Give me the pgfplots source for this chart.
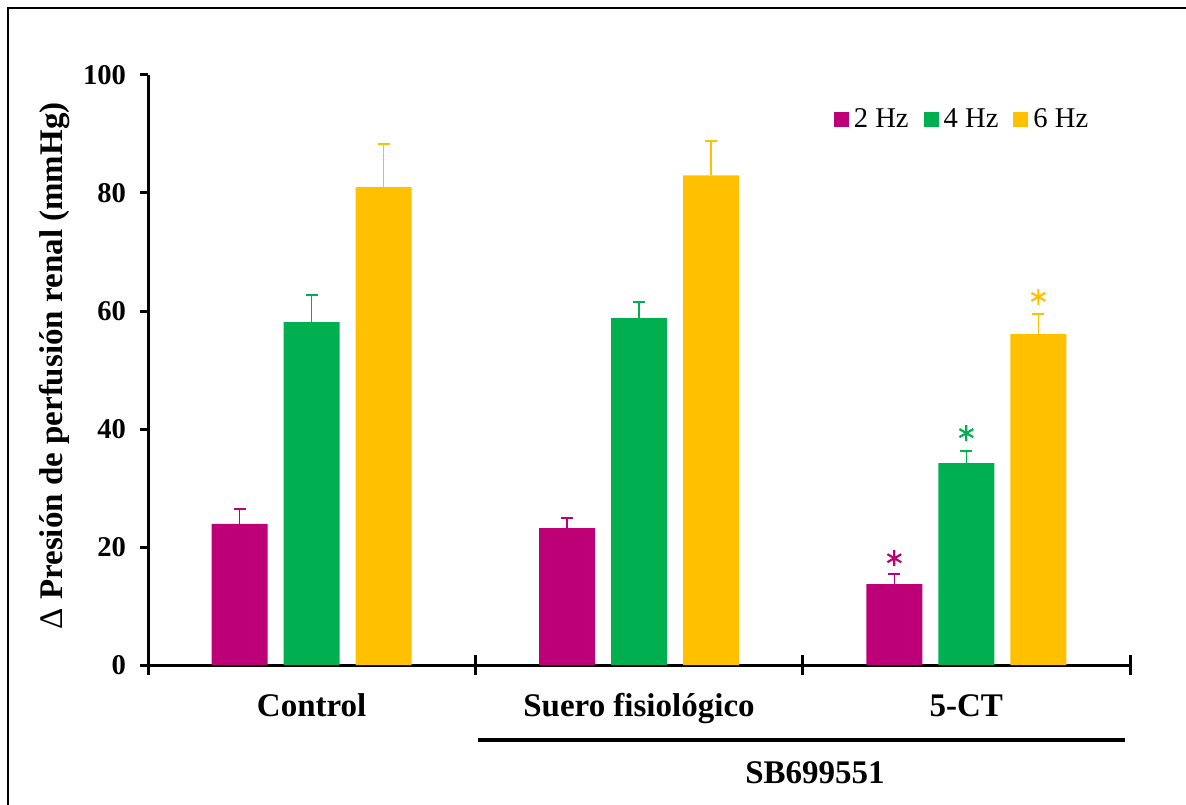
\documentclass[border=0pt]{standalone}
\usepackage{fontspec}
\setmainfont{Liberation Serif}
\usepackage{pgfplots}
\usepackage{pgfplotstable}
\pgfplotsset{compat=1.18}
\definecolor{cmag}{HTML}{BE0077}
\definecolor{cgrn}{HTML}{00B050}
\definecolor{cgld}{HTML}{FFC000}
\pgfplotsset{sqlegend/.style={legend image code/.code={\fill[##1] (0pt,-3.75pt) rectangle (7.5pt,3.75pt);}}}
\pgfplotstableread{
x y e
0 23.9 2.5
1 23.2 1.7
2 13.7 1.7
}\twohz
\pgfplotstableread{
x y e
0 58.1 4.6
1 58.8 2.7
2 34.2 2.1
}\fourhz
\pgfplotstableread{
x y e
0 81.0 7.3
1 83.0 5.8
2 56.1 3.4
}\sixhz
\begin{document}
\begin{tikzpicture}
\useasboundingbox (0pt,0pt) rectangle (593pt,402pt);
\draw[line width=1pt] (4pt,-10pt) -- (4pt,398pt) -- (610pt,398pt);
\begin{axis}[
  at={(74pt,69.5pt)}, anchor=south west,
  scale only axis, width=491pt, height=295pt,
  xmin=-0.5, xmax=2.5, ymin=0, ymax=100,
  ybar=8pt, bar width=28pt,
  axis x line=bottom, axis y line=left,
  axis line style={-, line width=1.5pt, black},
  clip=false,
  ytick={0,20,...,100},
  tick align=outside, major tick length=4pt,
  tick style={line width=1.5pt, black},
  xtick={0,1,2},
  xticklabels={Control, Suero fisiológico, 5-CT},
  xtick style={draw=none},
  /pgf/number format/assume math mode=true,
  yticklabel style={font=\fontsize{14.3}{16}\selectfont\bfseries, xshift=-3.5pt},
  xticklabel style={font=\fontsize{16.5}{18}\selectfont\bfseries, text height=11pt, text depth=3pt, yshift=-7pt},
  ylabel={{\mdseries Δ} Presión de perfusión renal (mmHg)},
  ylabel style={font=\fontsize{16.5}{18}\selectfont\bfseries, at={(axis description cs:-0.095,0.507)}, anchor=center},
  legend columns=3,
  legend style={draw=none, fill=none, at={(0.829,0.924)}, anchor=center,
    font=\fontsize{14.3}{16}\selectfont,
    nodes={inner xsep=1pt},
    /tikz/every odd column/.append style={column sep=1.5pt},
    /tikz/every even column/.append style={column sep=6.5pt}},
]
\addplot[bar shift=-36pt, fill=cmag, draw=none, sqlegend,
  error bars/.cd, y dir=plus, y explicit,
  error bar style={cmag, line width=0.75pt},
  error mark options={rotate=90, cmag, line width=0.75pt, mark size=3pt}]
  table[x=x, y=y, y error=e]{\twohz};
\addlegendentry{2 Hz}
\addplot[bar shift=0pt, fill=cgrn, draw=none, sqlegend,
  error bars/.cd, y dir=plus, y explicit,
  error bar style={cgrn, line width=0.75pt},
  error mark options={rotate=90, cgrn, line width=0.75pt, mark size=3pt}]
  table[x=x, y=y, y error=e]{\fourhz};
\addlegendentry{4 Hz}
\addplot[bar shift=36pt, fill=cgld, draw=none, sqlegend,
  error bars/.cd, y dir=plus, y explicit,
  error bar style={cgld, line width=0.75pt},
  error mark options={rotate=90, cgld, line width=0.75pt, mark size=3pt}]
  table[x=x, y=y, y error=e]{\sixhz};
\addlegendentry{6 Hz}
\addplot[sharp plot, only marks, mark=asterisk, mark size=4pt, mark options={cmag, line width=1.1pt}, forget plot] coordinates {(1.78,18.1)};
\addplot[sharp plot, only marks, mark=asterisk, mark size=4pt, mark options={cgrn, line width=1.1pt}, forget plot] coordinates {(2.0,39.3)};
\addplot[sharp plot, only marks, mark=asterisk, mark size=4pt, mark options={cgld, line width=1.1pt}, forget plot] coordinates {(2.22,62.4)};
\pgfplotsinvokeforeach{-0.5,0.5,1.5,2.5}{\draw[line width=1.5pt, black] ([yshift=5pt]axis cs:#1,0) -- ([yshift=-5pt]axis cs:#1,0);}
\end{axis}
\draw[line width=2pt] (239pt,32pt) -- (562.5pt,32pt);
\node[font=\fontsize{16.5}{18}\selectfont\bfseries] at (407.5pt,15.5pt) {SB699551};
\end{tikzpicture}
\end{document}
